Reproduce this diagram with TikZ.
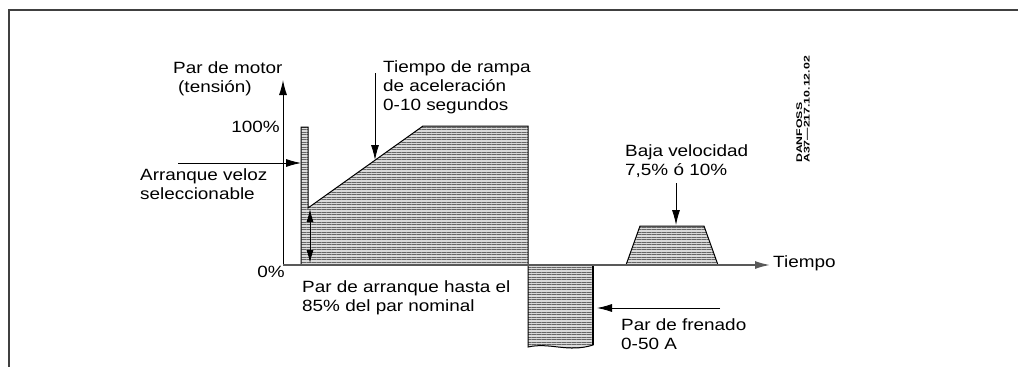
\documentclass[tikz,border=0pt]{standalone}
\usepackage{fontspec}
\setmainfont[FakeStretch=1.16]{Liberation Sans}
\newfontfamily\codefont[FakeStretch=1.5]{Liberation Sans}
\usetikzlibrary{arrows.meta,patterns.meta}
\tikzset{
  txt/.style={anchor=base west,inner sep=0pt,align=left,font=\fontsize{16.3}{19}\selectfont},
  tip/.style={-{Latex[length=15pt,width=8pt]}},
  area/.style={draw=black,line width=1pt,preaction={fill=gray!28},
    pattern={Lines[angle=0,distance=2.5pt,line width=0.9pt]},pattern color=gray!80!black}
}
\begin{document}
\begin{tikzpicture}[x=1pt,y=-1pt]
\useasboundingbox (0,0) rectangle (1018,367);
\path[draw,line width=2pt,color=black!75] (1018,10) -- (9,10) -- (9,367);

\path[draw,area] (301,265) -- (301,127) -- (308,127) -- (308,208) -- (423,126) -- (528,126) -- (528,265) -- cycle;
\path[draw,area] (528,265) -- (528,347) .. controls (550,342) and (568,353) .. (593,345) -- (593,265) -- cycle;
\path[draw,line width=2pt] (593,265) -- (593,345);
\path[draw,area] (626,265) -- (640,226) -- (704,226) -- (718,265) -- cycle;

\coordinate (o) at (283,265);
\coordinate (ytop) at (283,80);
\coordinate (xend) at (770,265);
\path[draw,line width=1pt,tip] (o) -- (ytop);
\path[draw,line width=1.5pt,color=black!65,tip] (o) -- (xend);

\node[txt] (motor) at (173,92) {Par de motor\\\hspace*{5pt}(tensión)};
\node[txt,anchor=base east] (cien) at (280,132) {100\%};
\node[txt,anchor=base east] (cero) at (285,277) {0\%};
\node[txt] (rampa) at (383,110) {Tiempo de rampa\\de aceleración\\0-10 segundos};
\node[txt] (veloz) at (140,199) {Arranque veloz\\seleccionable};
\node[txt] (arr) at (302,311) {Par de arranque hasta el\\85\% del par nominal};
\node[txt] (baja) at (625,175) {Baja velocidad\\7,5\% ó 10\%};
\node[txt] (tiempo) at (773,267) {Tiempo};
\node[txt] (fren) at (621,349) {Par de frenado\\0-50 A};
\node[rotate=90,anchor=south west,inner sep=0pt,align=left,
  font=\codefont\bfseries\fontsize{8.2}{7.6}\selectfont] (code) at (810,163) {DANFOSS\\A37—217.10.12.02};

\coordinate (v1) at (178,163);
\coordinate (v2) at (301,163);
\coordinate (r1) at (375,73);
\coordinate (r2) at (375,160);
\coordinate (b1) at (676,183);
\coordinate (b2) at (676,225);
\coordinate (f1) at (720,308);
\coordinate (f2) at (597,308);
\coordinate (d1) at (310,209);
\coordinate (d2) at (310,263);
\path[draw,line width=0.8pt,tip] (v1) -- (v2);
\path[draw,line width=0.8pt,tip] (r1) -- (r2);
\path[draw,line width=0.8pt,tip] (b1) -- (b2);
\path[draw,line width=0.8pt,tip] (f1) -- (f2);
\path[draw,line width=0.8pt,{Latex[length=13pt,width=7pt]}-{Latex[length=13pt,width=7pt]}] (d1) -- (d2);
\end{tikzpicture}
\end{document}
